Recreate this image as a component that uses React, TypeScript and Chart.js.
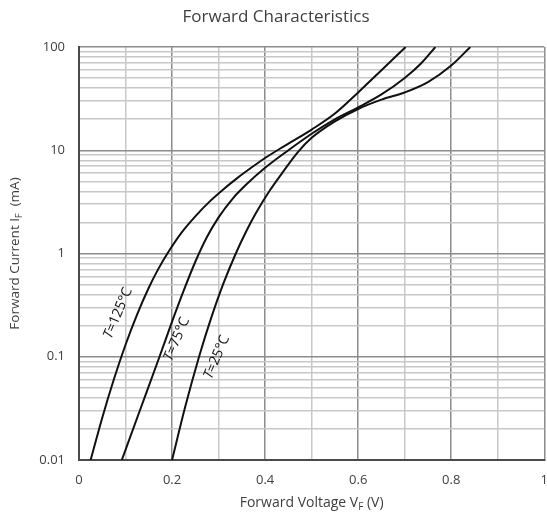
import React, { useEffect, useRef } from "react";
import { Chart, registerables } from "chart.js";

Chart.register(...registerables);

// ---- Data ----
const v125 = [0.025, 0.05, 0.075, 0.1, 0.125, 0.15, 0.17, 0.19, 0.22, 0.25, 0.28, 0.31, 0.34, 0.37, 0.4, 0.43, 0.46, 0.5, 0.55, 0.6, 0.65, 0.702];
const i125 = [0.01, 0.0257, 0.0605, 0.1306, 0.2576, 0.4656, 0.7015, 1.0, 1.585, 2.291, 3.162, 4.169, 5.37, 6.76, 8.41, 10.23, 12.3, 15.85, 22.65, 36.3, 59.6, 100];

const v75 = [0.092, 0.13, 0.173, 0.2, 0.225, 0.25, 0.275, 0.3, 0.33, 0.36, 0.4, 0.45, 0.5, 0.55, 0.6, 0.65, 0.7, 0.735, 0.766];
const i75 = [0.01, 0.0295, 0.1, 0.219, 0.437, 0.832, 1.445, 2.239, 3.388, 4.677, 6.761, 10, 14.45, 19.95, 26.0, 34.7, 50.1, 69.2, 100];

const v25 = [0.2, 0.228, 0.258, 0.285, 0.31, 0.337, 0.36, 0.38, 0.41, 0.44, 0.47, 0.5, 0.55, 0.6, 0.65, 0.7, 0.75, 0.8, 0.841];
const i25 = [0.01, 0.0324, 0.1, 0.245, 0.508, 1.0, 1.66, 2.455, 4.074, 6.31, 9.55, 13.2, 19.05, 25.1, 30.9, 36.3, 45.7, 66.1, 100];

const seriesNames = ["T=125°C", "T=75°C", "T=25°C"];
// label anchors in data coordinates (voltage, current)
const labelV = [0.084, 0.21, 0.296];
const labelI = [0.265, 0.148, 0.099];

const xGridValues = [0, 0.1, 0.2, 0.3, 0.4, 0.5, 0.6, 0.7, 0.8, 0.9, 1];
const xTickLabels = ["0", "", "0.2", "", "0.4", "", "0.6", "", "0.8", "", "1"];
const yDecades = [0.01, 0.1, 1, 10, 100];
const yTickLabels = ["0.01", "0.1", "1", "10", "100"];
const yMinorMultipliers = [2, 3, 4, 5, 6, 7, 8, 9];

const chartTitle = "Forward Characteristics";
const FONT = "'Open Sans', 'Liberation Sans', sans-serif";

function buildYTicks() {
  const out: { value: number; major: boolean }[] = [];
  yDecades.forEach((d, i) => {
    out.push({ value: d, major: true });
    if (i < yDecades.length - 1) {
      yMinorMultipliers.forEach((m) => out.push({ value: +(d * m).toPrecision(3), major: false }));
    }
  });
  return out;
}

type Part = { t: string; sub?: boolean; italic?: boolean };

function partFont(p: Part, size: number) {
  const s = p.sub ? Math.round(size * 0.7) : size;
  return `${p.italic ? "italic " : ""}${s}px ${FONT}`;
}

function drawParts(ctx: CanvasRenderingContext2D, parts: Part[], cx: number, cy: number, size: number) {
  const widths = parts.map((p) => {
    ctx.font = partFont(p, size);
    return ctx.measureText(p.t).width;
  });
  const total = widths.reduce((a, b) => a + b, 0);
  let x = cx - total / 2;
  ctx.textBaseline = "middle";
  ctx.textAlign = "left";
  parts.forEach((p, i) => {
    ctx.font = partFont(p, size);
    ctx.fillText(p.t, x, p.sub ? cy + 4 : cy);
    x += widths[i];
  });
}

const textPlugin = {
  id: "textPlugin",
  afterDraw(chart: any) {
    const ctx: CanvasRenderingContext2D = chart.ctx;
    const { left, right, top, bottom } = chart.chartArea;
    const xs = chart.scales.x;
    const ys = chart.scales.y;
    ctx.save();
    ctx.fillStyle = "#404040";
    // title
    ctx.font = `17px ${FONT}`;
    ctx.textAlign = "center";
    ctx.textBaseline = "middle";
    ctx.fillText(chartTitle, 276, 17);
    // x title
    drawParts(ctx, [{ t: "Forward Voltage V" }, { t: "F", sub: true }, { t: " (V)" }], (left + right) / 2, 503, 14);
    // y title
    ctx.save();
    ctx.translate(15, (top + bottom) / 2);
    ctx.rotate(-Math.PI / 2);
    drawParts(ctx, [{ t: "Forward Current I" }, { t: "F", sub: true }, { t: "  (mA)" }], 0, 0, 13.5);
    ctx.restore();
    // curve labels
    ctx.fillStyle = "#111";
    seriesNames.forEach((name, i) => {
      const px = xs.getPixelForValue(labelV[i]);
      const py = ys.getPixelForValue(labelI[i]);
      ctx.save();
      ctx.translate(px, py);
      ctx.rotate((-67 * Math.PI) / 180);
      drawParts(ctx, [{ t: name.slice(0, 1), italic: true }, { t: name.slice(1) }], 0, 0, 14);
      ctx.restore();
    });
    ctx.restore();
  },
};

export default function App() {
  const ref = useRef<HTMLCanvasElement | null>(null);
  useEffect(() => {
    if (!ref.current) return;
    const mk = (v: number[], c: number[], label: string) => ({
      label,
      data: v.map((x, i) => ({ x, y: c[i] })),
      borderColor: "#111",
      borderWidth: 2,
      pointRadius: 0,
      showLine: true,
      fill: false,
      cubicInterpolationMode: "monotone" as const,
    });
    const chart = new Chart(ref.current, {
      type: "scatter",
      data: {
        datasets: [mk(v125, i125, seriesNames[0]), mk(v75, i75, seriesNames[1]), mk(v25, i25, seriesNames[2])],
      },
      options: {
        animation: false,
        responsive: false,
        layout: { padding: { left: 0, top: 47, right: 15, bottom: 0 } },
        plugins: { legend: { display: false }, tooltip: { enabled: false }, title: { display: false } },
        scales: {
          x: {
            type: "linear",
            min: 0,
            max: 1,
            afterBuildTicks: (s: any) => {
              s.ticks = xGridValues.map((v) => ({ value: v }));
            },
            afterFit: (s: any) => {
              s.height = 53;
            },
            ticks: {
              autoSkip: false,
              maxRotation: 0,
              padding: 12,
              color: "#404040",
              font: { family: FONT, size: 13 },
              callback: (_v: any, idx: number) => xTickLabels[idx],
            },
            grid: {
              drawTicks: false,
              lineWidth: 1.5,
              color: (c: any) => (c.index % 2 === 0 ? "#8c8c8c" : "#c8c8c8"),
            },
            border: { color: "#4a4a4a", width: 2 },
          },
          y: {
            type: "logarithmic",
            min: 0.01,
            max: 100,
            afterBuildTicks: (s: any) => {
              s.ticks = buildYTicks();
            },
            afterFit: (s: any) => {
              s.width = 79;
            },
            ticks: {
              autoSkip: false,
              padding: 14,
              color: "#404040",
              font: { family: FONT, size: 13 },
              callback: (v: any) => {
                const i = yDecades.findIndex((d) => Math.abs(d - Number(v)) < d * 1e-6);
                return i >= 0 ? yTickLabels[i] : "";
              },
            },
            grid: {
              drawTicks: false,
              lineWidth: 1.5,
              color: (c: any) => (c.tick && c.tick.major ? "#8c8c8c" : "#c8c8c8"),
            },
            border: { color: "#4a4a4a", width: 2 },
          },
        },
      },
      plugins: [textPlugin],
    } as any);
    return () => chart.destroy();
  }, []);
  return (
    <div style={{ position: "absolute", left: 0, top: 0, width: 547, height: 513, overflow: "hidden", background: "#fff" }}>
      <canvas ref={ref} width={560} height={513} style={{ width: 560, height: 513, display: "block" }} />
    </div>
  );
}
